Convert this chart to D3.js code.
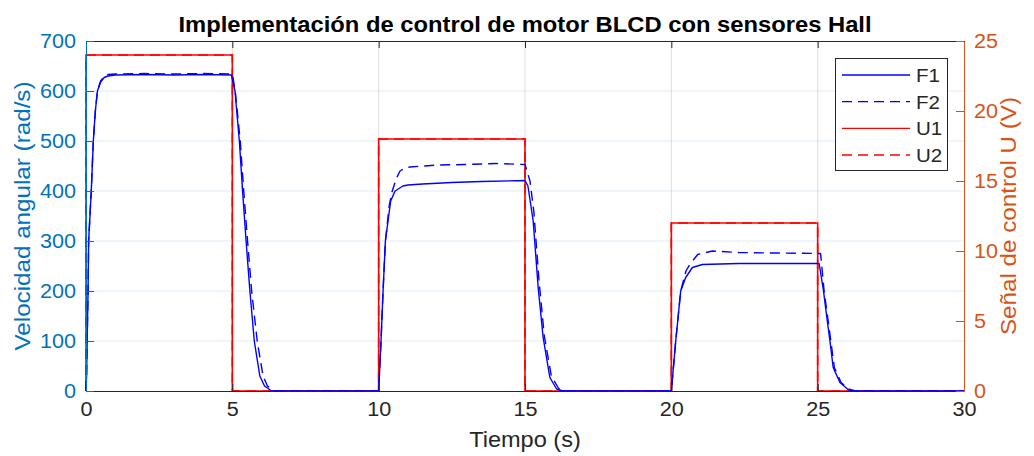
<!DOCTYPE html>
<html>
<head>
<meta charset="utf-8">
<script src="https://cdn.jsdelivr.net/npm/d3@7"></script>
<style>
  html, body { margin: 0; padding: 0; background: #fff; }
  svg { display: block; font-family: "Liberation Sans", Arial, Helvetica, sans-serif; }
</style>
</head>
<body>
<svg id="chart" width="1034" height="456"></svg>
<script>
// Speed responses (rad/s) sampled over time (s)
const timeF1 = [0, 0.02, 0.04, 0.07, 0.09, 0.18, 0.25, 0.32, 0.39, 0.5, 0.62, 0.75, 1.0, 2, 3, 4, 4.97,
  5.09, 5.24, 5.35, 5.47, 5.6, 5.75, 5.94, 6.1, 6.34,
  10.0, 10.08, 10.15, 10.23, 10.41, 10.56, 10.83, 11, 11.5, 12.5, 13.5, 15.0,
  15.1, 15.28, 15.45, 15.62, 15.85, 16.08, 16.3,
  20.0, 20.15, 20.32, 20.49, 20.72, 21.06, 22.3, 23.5, 25.05,
  25.2, 25.3, 25.42, 25.53, 25.76, 26.04, 26.25, 30];
const speedF1 = [0, 30, 100, 200, 300, 400, 500, 560, 600, 618, 627, 630, 632, 633, 632, 633, 632,
  600, 500, 400, 300, 200, 100, 30, 10, 0,
  0, 100, 200, 300, 380, 400, 410, 412, 414, 417, 419, 421,
  410, 340, 207, 107, 27, 4, 0,
  0, 100, 200, 227, 247, 253, 255, 255, 255,
  200, 153, 100, 47, 17, 3, 0, 0];

const timeF2 = [0, 0.02, 0.04, 0.07, 0.09, 0.18, 0.25, 0.32, 0.39, 0.5, 0.62, 0.75, 1.0, 2, 3, 4, 5.0,
  5.1, 5.27, 5.39, 5.52, 5.66, 5.85, 6.05, 6.2, 6.45,
  10.0, 10.08, 10.15, 10.23, 10.36, 10.45, 10.6, 10.73, 10.9, 11.07, 12, 13, 14, 15.0,
  15.17, 15.3, 15.48, 15.66, 15.9, 16.15, 16.4,
  20.0, 20.15, 20.32, 20.5, 20.63, 20.9, 21.4, 22.3, 23.5, 25.1,
  25.22, 25.33, 25.45, 25.57, 25.8, 26.1, 26.3, 30];
const speedF2 = [0, 30, 100, 200, 300, 400, 500, 560, 600, 620, 629, 633, 634, 635, 634, 635, 634,
  600, 500, 400, 300, 200, 100, 30, 10, 0,
  0, 100, 200, 300, 370, 397, 425, 440, 446, 448, 452, 453, 455, 453,
  420, 360, 220, 110, 30, 5, 0,
  0, 100, 200, 240, 253, 273, 280, 277, 276, 275,
  200, 153, 100, 47, 17, 3, 0, 0];

// Control voltage (V)
const timeU = [0, 0, 5, 5, 10, 10, 15, 15, 20, 20, 25, 25, 30];
const voltU1 = [0, 24, 24, 0, 0, 18, 18, 0, 0, 12, 12, 0, 0];
const voltU2 = [0, 24, 24, 0, 0, 18, 18, 0, 0, 12, 12, 0, 0];

const xTicks = [0, 5, 10, 15, 20, 25, 30];
const leftTicks = [0, 100, 200, 300, 400, 500, 600, 700];
const rightTicks = [0, 5, 10, 15, 20, 25];
const legendLabels = ["F1", "F2", "U1", "U2"];

const titleText = "Implementación de control de motor BLCD con sensores Hall";
const xLabel = "Tiempo (s)";
const leftLabel = "Velocidad angular (rad/s)";
const rightLabel = "Señal de control U (V)";

// Layout
const plot = { left: 86, right: 964, top: 41, bottom: 391 };
const blueAxis = "#0072BD", orangeAxis = "#D95319", dark = "#262626";
const fLine = "#0000FF", uLine = "#FF0000";
const dash = "10,6";

const svg = d3.select("#chart");

// Slightly widen glyph runs so text proportions follow the wider rendering
function widen(sel, k) {
  sel.each(function () {
    const w = this.getComputedTextLength();
    d3.select(this).attr("textLength", w * k).attr("lengthAdjust", "spacingAndGlyphs");
  });
}

const x = d3.scaleLinear().domain([0, 30]).range([plot.left, plot.right]);
const yL = d3.scaleLinear().domain([0, 700]).range([plot.bottom, plot.top]);
const yR = d3.scaleLinear().domain([0, 25]).range([plot.bottom, plot.top]);

// Grid
const grid = svg.append("g");
grid.selectAll("line.h").data(leftTicks.filter(d => d > 0 && d < 700)).join("line")
  .attr("x1", plot.left).attr("x2", plot.right)
  .attr("y1", d => yL(d)).attr("y2", d => yL(d))
  .attr("stroke", blueAxis).attr("stroke-opacity", 0.13).attr("stroke-width", 1);
grid.selectAll("line.v").data(xTicks.filter(d => d > 0 && d < 30)).join("line")
  .attr("x1", d => x(d)).attr("x2", d => x(d))
  .attr("y1", plot.top).attr("y2", plot.bottom)
  .attr("stroke", dark).attr("stroke-opacity", 0.15).attr("stroke-width", 1);

// Series
svg.append("clipPath").attr("id", "clip").append("rect")
  .attr("x", plot.left - 2).attr("y", plot.top).attr("width", plot.right - plot.left + 4).attr("height", plot.bottom - plot.top + 2);
const series = svg.append("g").attr("clip-path", "url(#clip)");

const lineL = d3.line().x(d => x(d[0])).y(d => yL(d[1]));
const lineR = d3.line().x(d => x(d[0])).y(d => yR(d[1]));

series.append("path").datum(d3.zip(timeU, voltU1)).attr("d", lineR)
  .attr("fill", "none").attr("stroke", uLine).attr("stroke-width", 1.6);
series.append("path").datum(d3.zip(timeU, voltU2)).attr("d", lineR)
  .attr("fill", "none").attr("stroke", uLine).attr("stroke-width", 1.6).attr("stroke-dasharray", dash);
series.append("path").datum(d3.zip(timeF1, speedF1)).attr("d", lineL)
  .attr("fill", "none").attr("stroke", fLine).attr("stroke-width", 1.4).attr("stroke-linejoin", "round");
series.append("path").datum(d3.zip(timeF2, speedF2)).attr("d", lineL)
  .attr("fill", "none").attr("stroke", fLine).attr("stroke-width", 1.4).attr("stroke-dasharray", dash).attr("stroke-linejoin", "round");

// Axes
function styleAxis(g, color) {
  g.select(".domain").attr("stroke", color).attr("stroke-width", 1);
  g.selectAll(".tick line").attr("stroke", color).attr("stroke-width", 1);
  g.selectAll(".tick text").attr("fill", color).attr("font-size", 20)
    .attr("font-family", "'Liberation Sans', Arial, sans-serif");
  widen(g.selectAll(".tick text"), 1.08);
}

const gTop = svg.append("g").attr("transform", `translate(0,${plot.top})`)
  .call(d3.axisTop(x).tickValues(xTicks).tickSize(-7).tickSizeOuter(0).tickFormat(""));
styleAxis(gTop, dark);

const gBottom = svg.append("g").attr("transform", `translate(0,${plot.bottom})`)
  .call(d3.axisBottom(x).tickValues(xTicks).tickSize(-7).tickSizeOuter(0).tickPadding(11));
styleAxis(gBottom, dark);

const gLeft = svg.append("g").attr("transform", `translate(${plot.left},0)`)
  .call(d3.axisLeft(yL).tickValues(leftTicks).tickSize(-8).tickSizeOuter(0).tickPadding(10));
styleAxis(gLeft, blueAxis);

const gRight = svg.append("g").attr("transform", `translate(${plot.right},0)`)
  .call(d3.axisRight(yR).tickValues(rightTicks).tickSize(-8).tickSizeOuter(0).tickPadding(10));
styleAxis(gRight, orangeAxis);

// Titles
const tTitle = svg.append("text").attr("x", (plot.left + plot.right) / 2).attr("y", 32)
  .attr("text-anchor", "middle").attr("font-size", 22).attr("font-weight", "bold")
  .attr("fill", "#000").text(titleText);
widen(tTitle, 1.08);
const tX = svg.append("text").attr("x", (plot.left + plot.right) / 2).attr("y", 447)
  .attr("text-anchor", "middle").attr("font-size", 22).attr("fill", dark).text(xLabel);
widen(tX, 1.07);
const tL = svg.append("text").attr("transform", `translate(30,${(plot.top + plot.bottom) / 2}) rotate(-90)`)
  .attr("text-anchor", "middle").attr("font-size", 22).attr("fill", blueAxis).text(leftLabel);
widen(tL, 1.1);
const tR = svg.append("text").attr("transform", `translate(1016,${(plot.top + plot.bottom) / 2}) rotate(-90)`)
  .attr("text-anchor", "middle").attr("font-size", 22).attr("fill", orangeAxis).text(rightLabel);
widen(tR, 1.1);

// Legend
const legend = svg.append("g");
legend.append("rect").attr("x", 835.5).attr("y", 58.5).attr("width", 112).attr("height", 112)
  .attr("fill", "#fff").attr("stroke", dark).attr("stroke-width", 1);
const legendStyles = [
  { color: fLine, dash: null },
  { color: fLine, dash: dash },
  { color: uLine, dash: null },
  { color: uLine, dash: dash }
];
const rowY = d3.scaleLinear().domain([0, 3]).range([75, 155]);
legendLabels.forEach((lab, i) => {
  const yy = rowY(i);
  legend.append("line").attr("x1", 842).attr("x2", 910).attr("y1", yy).attr("y2", yy)
    .attr("stroke", legendStyles[i].color).attr("stroke-width", 1.4)
    .attr("stroke-dasharray", legendStyles[i].dash);
  const t = legend.append("text").attr("x", 916).attr("y", yy + 7).attr("font-size", 19)
    .attr("fill", dark).text(lab);
  widen(t, 1.08);
});
</script>
</body>
</html>
